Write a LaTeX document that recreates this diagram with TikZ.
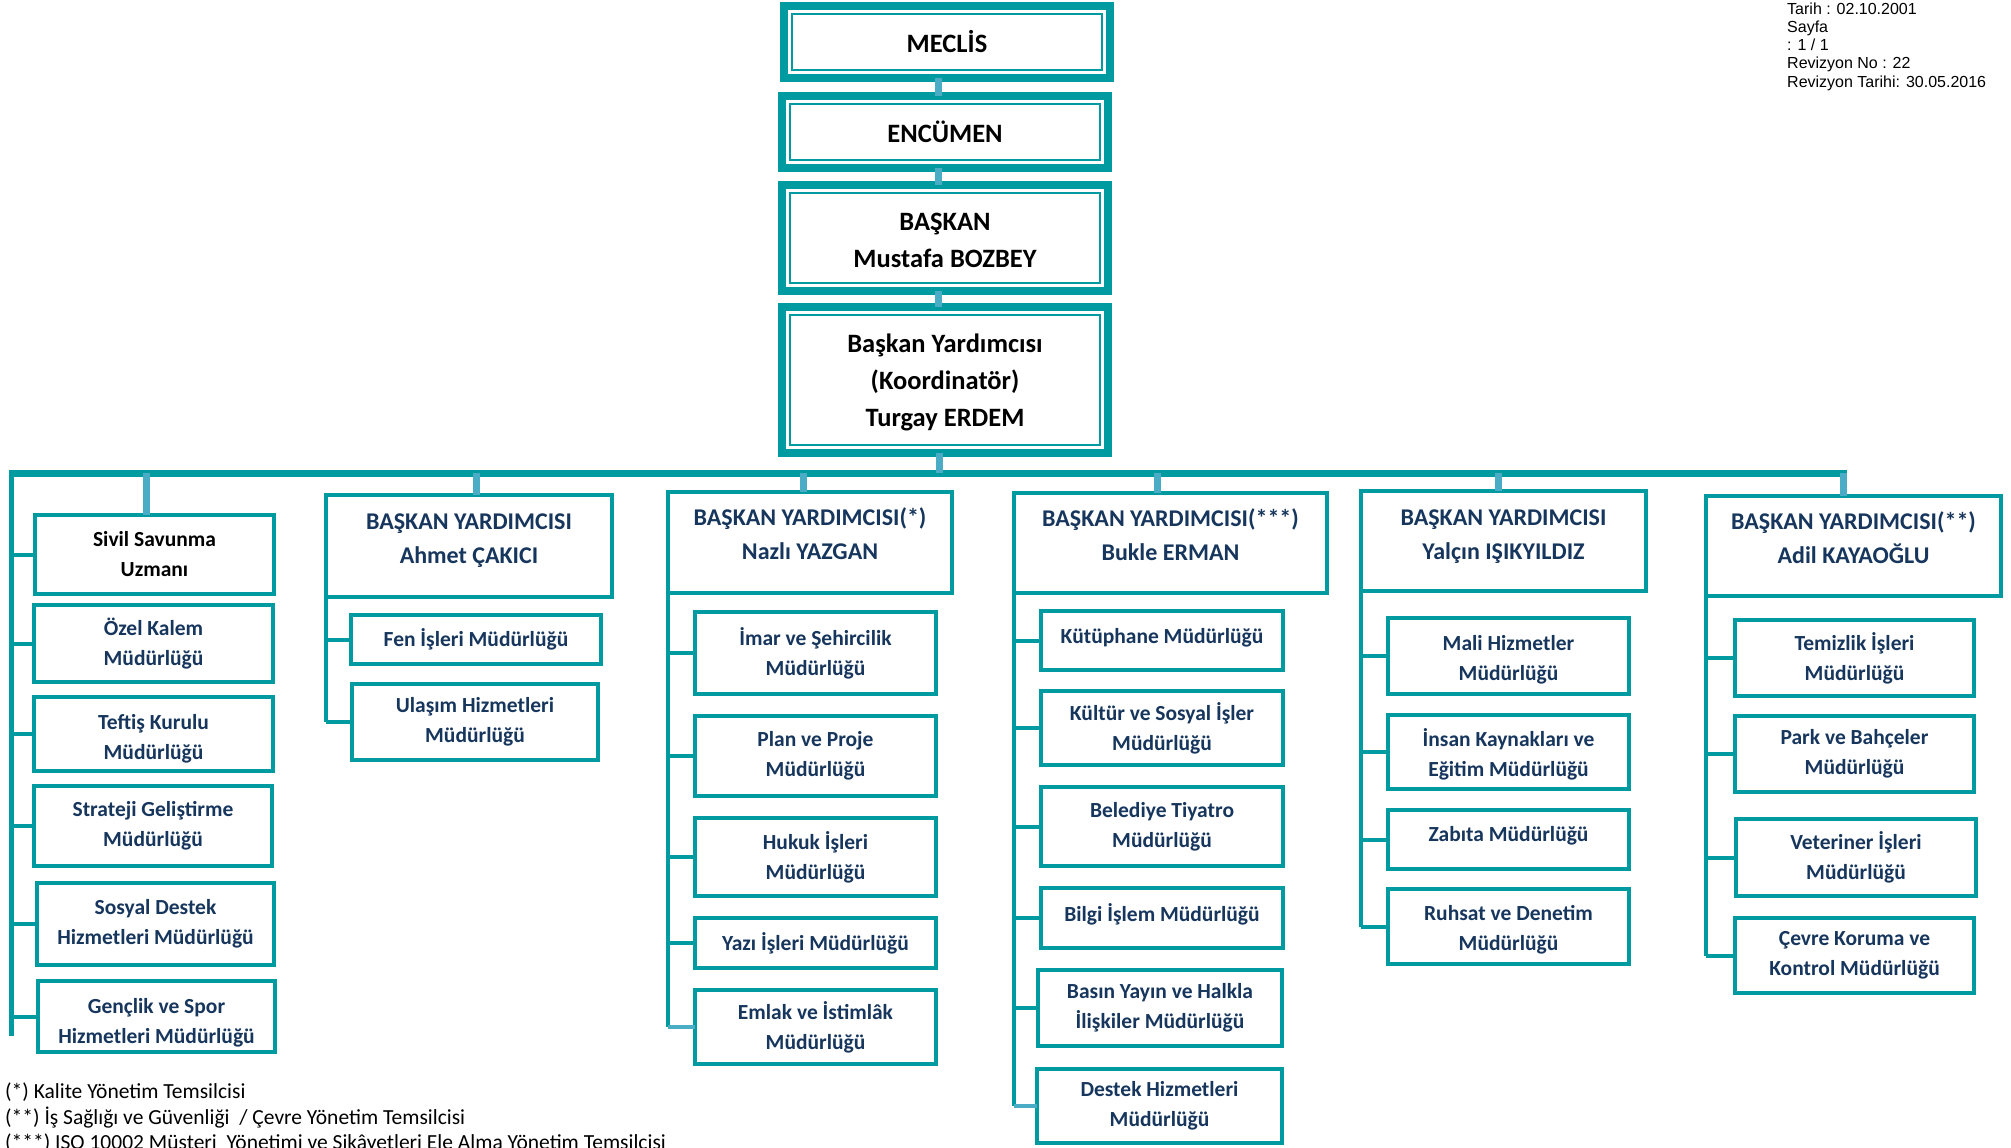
\documentclass[tikz,border=0pt]{standalone}
\usepackage{fontspec}
\setmainfont{Carlito}
\newfontfamily\arialf{Liberation Sans}
\definecolor{boxteal}{RGB}{0,155,160}
\definecolor{linkblue}{RGB}{75,172,198}
\definecolor{deptnavy}{RGB}{23,54,93}
\begin{document}
\begin{tikzpicture}[x=1pt,y=-1pt,
  topbox/.style={draw=boxteal, line width=8pt, fill=white, inner sep=0pt, outer sep=0pt, align=center, minimum width=326pt, font=\fontsize{26.5}{37}\selectfont\bfseries},
  toptext/.style={align=center, inner sep=0pt, font=\fontsize{26.5}{37}\selectfont\bfseries},
  bybox/.style={draw=boxteal, line width=4pt, fill=white, inner sep=0pt, outer sep=0pt, minimum height=100pt},
  bytext/.style={text=deptnavy, align=center, font=\fontsize{24}{34}\selectfont\bfseries, inner sep=0pt},
  deptbox/.style={draw=boxteal, line width=4pt, fill=white, inner sep=0pt, outer sep=0pt, text=deptnavy, align=center, minimum width=241pt, font=\fontsize{21.5}{30}\selectfont\bfseries},
  depttext/.style={text=deptnavy, align=center, inner sep=0pt, font=\fontsize{21.5}{30}\selectfont\bfseries},
  branch/.style={draw=boxteal, line width=4pt},
  lightbranch/.style={draw=linkblue, line width=4pt},
  link/.style={draw=linkblue, line width=7pt},
  busline/.style={draw=boxteal, line width=7pt},
  innerframe/.style={draw=boxteal, line width=2.6pt},
]
\useasboundingbox (0,0) rectangle (2011,1148);

% ---------- top chain ----------
\node[topbox, minimum height=72pt]  (meclis)  at (947,42)  {MECLİS};
\node[topbox, minimum height=72pt]  (encumen) at (945,132) {ENCÜMEN};
\node[topbox, minimum height=106pt,
  label={[toptext, yshift=-2.5pt]center:{BAŞKAN\\Mustafa BOZBEY}}] (baskan) at (945,238) {};
\node[topbox, minimum height=146pt,
  label={[toptext, yshift=-2.5pt]center:{Başkan Yardımcısı\\(Koordinatör)\\Turgay ERDEM}}] (koord) at (945,380) {};
\foreach \n in {meclis,encumen,baskan,koord}
  \draw[innerframe] ([shift={(8,8)}]\n.north west) rectangle ([shift={(-8,-8)}]\n.south east);

\coordinate (spine) at (938,0);
\draw[link] (meclis.south -| spine) -- (encumen.north -| spine);
\draw[link] (encumen.south -| spine) -- (baskan.north -| spine);
\draw[link] (baskan.south -| spine) -- (koord.north -| spine);

% ---------- bus ----------
\coordinate (busL) at (11.5,473);
\coordinate (busR) at (1846.5,473);
\coordinate (busC) at (939,473);
\coordinate (b1) at (146,473);
\coordinate (b2) at (476,473);
\coordinate (b3) at (803,473);
\coordinate (b4) at (1157,473);
\coordinate (b5) at (1498,473);
\coordinate (b6) at (1843,473);
\coordinate (v1end) at (11.5,1036);

% ---------- column 1 ----------
\node[deptbox, text=black, minimum width=239pt, minimum height=79pt] (sivil) at (154.5,554.5) {Sivil Savunma\\Uzmanı};
\node[deptbox, minimum width=239pt, minimum height=77pt] (ozel) at (153.5,643.5) {Özel Kalem\\Müdürlüğü};
\node[deptbox, minimum width=239pt, minimum height=74pt,
  label={[depttext, yshift=-5pt]center:{Teftiş Kurulu\\Müdürlüğü}}] (teftis) at (153.5,734) {};
\node[deptbox, minimum width=238pt, minimum height=80pt] (strateji) at (153,826) {Strateji Geliştirme\\Müdürlüğü};
\node[deptbox, minimum width=237pt, minimum height=82pt] (sosyal) at (155.5,924) {Sosyal Destek\\Hizmetleri Müdürlüğü};
\node[deptbox, minimum width=237pt, minimum height=71pt,
  label={[depttext, yshift=-6pt]center:{Gençlik ve Spor\\Hizmetleri Müdürlüğü}}] (genclik) at (156.5,1016.5) {};

% ---------- column 2 ----------
\node[bybox, minimum width=286pt, minimum height=102pt,
  label={[bytext, yshift=5.5pt]center:{BAŞKAN YARDIMCISI\\Ahmet ÇAKICI}}] (by2) at (469,546) {};
\node[deptbox, minimum width=250pt, minimum height=49pt] (fen) at (476,639.5) {Fen İşleri Müdürlüğü};
\node[deptbox, minimum width=246pt, minimum height=76pt] (ulasim) at (475,722) {Ulaşım Hizmetleri\\Müdürlüğü};

% ---------- column 3 ----------
\node[bybox, minimum width=284pt, minimum height=101pt,
  label={[bytext, yshift=9pt]center:{BAŞKAN YARDIMCISI(*)\\Nazlı YAZGAN}}] (by3) at (810,542.5) {};
\node[deptbox, minimum height=82pt] (imar)  at (815.5,653)  {İmar ve Şehircilik\\Müdürlüğü};
\node[deptbox, minimum height=80pt] (plan)  at (815.5,756)  {Plan ve Proje\\Müdürlüğü};
\node[deptbox, minimum height=78pt] (hukuk) at (815.5,857)  {Hukuk İşleri\\Müdürlüğü};
\node[deptbox, minimum height=50pt] (yazi)  at (815.5,943)  {Yazı İşleri Müdürlüğü};
\node[deptbox, minimum height=74pt] (emlak) at (815.5,1027) {Emlak ve İstimlâk\\Müdürlüğü};

% ---------- column 4 ----------
\node[bybox, minimum width=313pt, minimum height=100pt,
  label={[bytext, yshift=8pt]center:{BAŞKAN YARDIMCISI(***)\\Bukle ERMAN}}] (by4) at (1170.5,543) {};
\node[deptbox, minimum width=242pt, minimum height=59pt,
  label={[depttext, yshift=2.5pt]center:{Kütüphane Müdürlüğü}}] (kutup) at (1162,640.5) {};
\node[deptbox, minimum width=242pt, minimum height=74pt] (kultur)  at (1162,728)   {Kültür ve Sosyal İşler\\Müdürlüğü};
\node[deptbox, minimum width=242pt, minimum height=79pt] (tiyatro) at (1162,826.5) {Belediye Tiyatro\\Müdürlüğü};
\node[deptbox, minimum width=242pt, minimum height=60pt,
  label={[depttext, yshift=4pt]center:{Bilgi İşlem Müdürlüğü}}] (bilgi) at (1162,918) {};
\node[deptbox, minimum width=244pt, minimum height=76pt] (basin)   at (1160,1008)  {Basın Yayın ve Halkla\\İlişkiler Müdürlüğü};
\node[deptbox, minimum width=245pt, minimum height=74pt] (destek)  at (1159.5,1106) {Destek Hizmetleri\\Müdürlüğü};

% ---------- column 5 ----------
\node[bybox, minimum width=285pt, minimum height=100pt,
  label={[bytext, yshift=4pt]center:{BAŞKAN YARDIMCISI\\Yalçın IŞIKYILDIZ}}] (by5) at (1503.5,541) {};
\node[deptbox, minimum height=76pt,
  label={[depttext, yshift=-3.5pt]center:{Mali Hizmetler\\Müdürlüğü}}] (mali) at (1508.5,656) {};
\node[deptbox, minimum height=74pt,
  label={[depttext, yshift=-2.5pt]center:{İnsan Kaynakları ve\\Eğitim Müdürlüğü}}] (insan) at (1508.5,752) {};
\node[deptbox, minimum height=59pt,
  label={[depttext, yshift=4pt]center:{Zabıta Müdürlüğü}}] (zabita) at (1508.5,839.5) {};
\node[deptbox, minimum height=75pt,
  label={[depttext, yshift=-3pt]center:{Ruhsat ve Denetim\\Müdürlüğü}}] (ruhsat) at (1508.5,926.5) {};

% ---------- column 6 ----------
\node[bybox, minimum width=295pt, minimum height=100pt,
  label={[bytext, yshift=8.5pt]center:{BAŞKAN YARDIMCISI(**)\\Adil KAYAOĞLU}}] (by6) at (1853.5,546) {};
\node[deptbox, minimum width=239pt, minimum height=76pt] (temiz) at (1854.5,658)   {Temizlik İşleri\\Müdürlüğü};
\node[deptbox, minimum width=239pt, minimum height=76pt] (park)  at (1854.5,754)   {Park ve Bahçeler\\Müdürlüğü};
\node[deptbox, minimum width=240pt, minimum height=77pt] (veter) at (1856,857.5)   {Veteriner İşleri\\Müdürlüğü};
\node[deptbox, minimum width=239pt, minimum height=75pt] (cevre) at (1854.5,955.5) {Çevre Koruma ve\\Kontrol Müdürlüğü};

% ---------- connectors ----------
\draw[busline] (busL) -- (busR);
\draw[link] (koord.south -| busC) -- (busC);
\draw[busline, line width=5pt] ([yshift=3.5pt]busL) -- (v1end);
\draw[link] (b1) -- (b1 |- sivil.north);
\draw[link] (b2) -- (b2 |- by2.north);
\draw[link] (b3) -- (b3 |- by3.north);
\draw[link] (b4) -- (b4 |- by4.north);
\draw[link] (b5) -- (b5 |- by5.north);
\draw[link] (b6) -- (b6 |- by6.north);

\foreach \b in {sivil,ozel,teftis,strateji,sosyal,genclik}
  \draw[branch] (busL |- \b.west) -- (\b.west);

\draw[branch] (by2.south west) -- (by2.south west |- ulasim.west);
\foreach \b in {fen,ulasim}
  \draw[branch] (by2.south west |- \b.west) -- (\b.west);

\draw[branch] (by3.south west) -- (by3.south west |- emlak.west);
\foreach \b in {imar,plan,hukuk,yazi}
  \draw[branch] (by3.south west |- \b.west) -- (\b.west);
\draw[lightbranch] (by3.south west |- emlak.west) -- (emlak.west);

\draw[branch] (by4.south west) -- (by4.south west |- destek.west);
\foreach \b in {kutup,kultur,tiyatro,bilgi,basin}
  \draw[branch] (by4.south west |- \b.west) -- (\b.west);
\draw[lightbranch] (by4.south west |- destek.west) -- (destek.west);

\draw[branch] (by5.south west) -- (by5.south west |- ruhsat.west);
\foreach \b in {mali,insan,zabita,ruhsat}
  \draw[branch] (by5.south west |- \b.west) -- (\b.west);

\draw[branch] (by6.south west) -- (by6.south west |- cevre.west);
\foreach \b in {temiz,park,veter,cevre}
  \draw[branch] (by6.south west |- \b.west) -- (\b.west);

% ---------- texts ----------
\node[anchor=west, align=left, inner sep=0pt, font=\arialf\fontsize{16}{18.3}\selectfont] (meta) at (1787,46.5)
  {Tarih : 02.10.2001\\Sayfa\\: 1 / 1\\Revizyon No : 22\\Revizyon Tarihi: 30.05.2016};
\node[anchor=west, align=left, inner sep=0pt, font=\fontsize{21.5}{25.5}\selectfont] (notes) at (5,1118)
  {(*) Kalite Yönetim Temsilcisi\\(**) İş Sağlığı ve Güvenliği~ / Çevre Yönetim Temsilcisi\\(***) ISO 10002 Müşteri~ Yönetimi ve Şikâyetleri Ele Alma Yönetim Temsilcisi};
\end{tikzpicture}
\end{document}
